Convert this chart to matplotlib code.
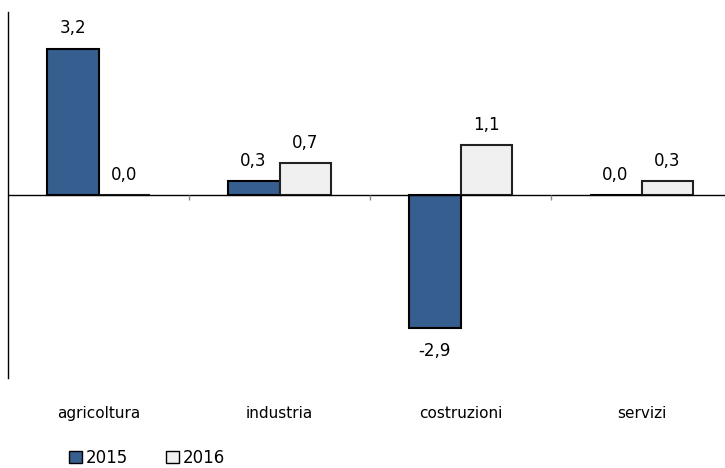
import matplotlib
matplotlib.use('Agg')
from matplotlib import pyplot as plt
from matplotlib.patches import Patch
import numpy as np

categories = ['agricoltura', 'industria', 'costruzioni', 'servizi']
years = ['2015', '2016']
values_2015 = [3.2, 0.3, -2.9, 0.0]
values_2016 = [0.0, 0.7, 1.1, 0.3]

BLUE = '#365e8f'
LIGHT = '#f0f0f0'

plt.rcParams['font.family'] = ['DejaVu Sans']
plt.rcParams['font.size'] = 11

fig = plt.figure(figsize=(7.25, 4.68), dpi=100)
ax = fig.add_axes([8 / 725, 90 / 468, 717 / 725, 366 / 468])

x = np.arange(len(categories))
w = 0.287

bars_a = ax.bar(x - w / 2, values_2015, w, color=BLUE, edgecolor='black', linewidth=1.5)
bars_b = ax.bar(x + w / 2, values_2016, w, color=LIGHT, edgecolor='#222222', linewidth=1.5)


def fmt(v):
    return '{:.1f}'.format(v).replace('.', ',')


# value labels above positive bars, below negative ones
for bars in (bars_a, bars_b):
    for b in bars:
        v = b.get_height()
        cx = b.get_x() + b.get_width() / 2
        if v >= 0:
            ax.annotate(fmt(v), (cx, v), xytext=(0, 8), textcoords='offset points',
                        ha='center', va='bottom', fontsize=12)
        else:
            ax.annotate(fmt(v), (cx, v), xytext=(0, -10), textcoords='offset points',
                        ha='center', va='top', fontsize=12)

# zero line with small tick marks between categories
ax.axhline(0, color='black', linewidth=1)
ax.vlines(x[:-1] + 0.5, -0.12, 0, color='#888888', linewidth=1)

ax.set_xlim(-0.5, -0.5 + 717 / 181)
ax.set_ylim(-4, 4)
ax.set_yticks([])
ax.set_xticks(x)
ax.set_xticklabels(categories, fontsize=11)
ax.tick_params(axis='x', length=0, pad=20)
for s in ('top', 'right', 'bottom'):
    ax.spines[s].set_visible(False)
ax.spines['left'].set_linewidth(1)

handles = [Patch(facecolor=BLUE, edgecolor='black', label=years[0]),
           Patch(facecolor=LIGHT, edgecolor='black', label=years[1])]
fig.legend(handles=handles, loc='center left', bbox_to_anchor=(54 / 725, 1 - 458 / 468),
           ncol=2, frameon=False, handlelength=0.75, handleheight=0.75,
           handletextpad=0.25, columnspacing=2.3, fontsize=12)

fig.savefig('out.png', dpi=100)
